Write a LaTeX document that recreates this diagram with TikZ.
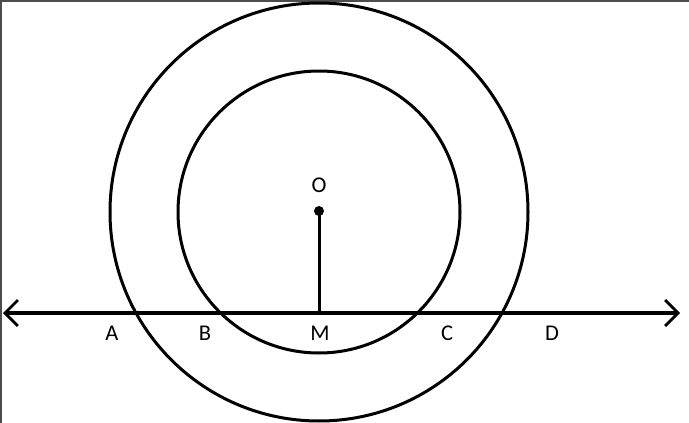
\documentclass[tikz,border=0pt]{standalone}
\usepackage{fontspec}
\setmainfont{Carlito}
\usetikzlibrary{arrows.meta}
\begin{document}
\begin{tikzpicture}[x=1pt,y=-1pt,
  ring/.style={line width=3pt},
  lbl/.style={font=\fontsize{22.5}{25}\selectfont, inner sep=0pt},
  axis/.style={line width=3.2pt, {Straight Barb[length=13pt,width=26pt,line width=2.8pt]}-{Straight Barb[length=13pt,width=26pt,line width=2.8pt]}}]
\useasboundingbox (0,0) rectangle (689,423);
\fill[white] (0,0) rectangle (689,423);
\draw[line width=1.2pt, black!70] (1,423) -- (1,1) -- (689,1);
\coordinate (O) at (319,211);
\coordinate (M) at (319,313);
\coordinate (L) at (3,313);
\coordinate (R) at (680,313);
\draw[ring] (319,212) circle[radius=209];
\draw[ring] (319,212) circle[radius=141];
\draw[axis] (L) -- (R);
\draw[line width=3pt] (O) -- (M);
\fill (O) circle[radius=5];
\node[lbl] (lo) at (319,185) {O};
\node[lbl] (la) at (112,333) {A};
\node[lbl] (lb) at (205,333) {B};
\node[lbl] (lm) at (320,333) {M};
\node[lbl] (lc) at (447,333) {C};
\node[lbl] (ld) at (552,333) {D};
\end{tikzpicture}
\end{document}
